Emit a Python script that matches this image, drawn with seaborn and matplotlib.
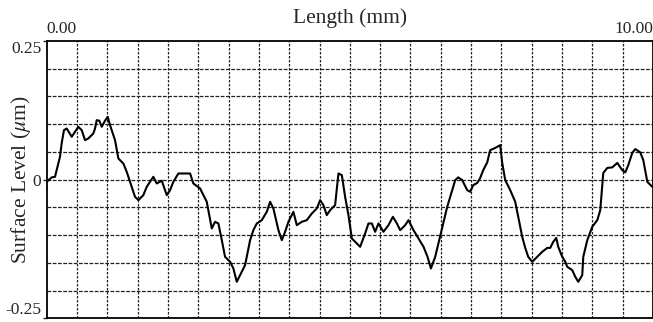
import numpy as np
import pandas as pd
import matplotlib
matplotlib.use("Agg")
import matplotlib.pyplot as plt
import seaborn as sns

# surface profile
length_mm = [0.000, 0.083, 0.137, 0.219, 0.248, 0.285, 0.330, 0.413, 0.467, 0.521,
             0.578, 0.632, 0.686, 0.769, 0.797, 0.825, 0.868, 0.908, 0.962, 1.007,
             1.045, 1.127, 1.182, 1.264, 1.320, 1.403, 1.457, 1.512, 1.594, 1.650,
             1.705, 1.759, 1.815, 1.898, 1.980, 2.035, 2.089, 2.172, 2.365, 2.419,
             2.530, 2.640, 2.723, 2.777, 2.832, 2.888, 2.942, 3.025, 3.079, 3.135,
             3.190, 3.272, 3.355, 3.409, 3.465, 3.548, 3.630, 3.685, 3.739, 3.822,
             3.878, 3.932, 3.987, 4.069, 4.125, 4.208, 4.290, 4.373, 4.455, 4.510,
             4.564, 4.620, 4.675, 4.757, 4.812, 4.868, 4.922, 4.977, 5.033, 5.087,
             5.170, 5.252, 5.307, 5.363, 5.417, 5.472, 5.554, 5.637, 5.710, 5.776,
             5.830, 5.913, 5.967, 6.050, 6.132, 6.215, 6.281, 6.337, 6.408, 6.490,
             6.573, 6.606, 6.688, 6.738, 6.787, 6.853, 6.936, 6.985, 7.035, 7.101,
             7.150, 7.200, 7.266, 7.315, 7.398, 7.480, 7.513, 7.563, 7.645, 7.728,
             7.777, 7.843, 7.893, 7.942, 8.008, 8.091, 8.173, 8.256, 8.305, 8.355,
             8.404, 8.437, 8.503, 8.553, 8.586, 8.668, 8.718, 8.767, 8.833, 8.850,
             8.916, 8.998, 9.081, 9.130, 9.180, 9.246, 9.328, 9.411, 9.493, 9.543,
             9.592, 9.658, 9.708, 9.790, 9.840, 9.906, 9.988]
surface_um = [-0.004, 0.004, 0.005, 0.041, 0.066, 0.089, 0.092, 0.077, 0.086, 0.095,
              0.089, 0.071, 0.074, 0.083, 0.092, 0.107, 0.106, 0.095, 0.106, 0.113,
              0.098, 0.071, 0.038, 0.029, 0.014, -0.013, -0.031, -0.037, -0.028, -0.013,
              -0.004, 0.005, -0.007, -0.002, -0.028, -0.019, -0.004, 0.011, 0.011, -0.007,
              -0.016, -0.040, -0.088, -0.076, -0.079, -0.109, -0.139, -0.148, -0.160, -0.184,
              -0.172, -0.154, -0.109, -0.091, -0.079, -0.073, -0.058, -0.040, -0.052, -0.091,
              -0.109, -0.094, -0.076, -0.058, -0.082, -0.076, -0.073, -0.061, -0.052, -0.037,
              -0.046, -0.064, -0.055, -0.046, 0.011, 0.008, -0.031, -0.064, -0.106, -0.112,
              -0.121, -0.097, -0.079, -0.079, -0.094, -0.079, -0.094, -0.082, -0.067, -0.079,
              -0.091, -0.082, -0.073, -0.091, -0.106, -0.121, -0.139, -0.160, -0.139, -0.102,
              -0.064, -0.049, -0.019, -0.001, 0.004, -0.001, -0.019, -0.022, -0.010, -0.006,
              0.003, 0.017, 0.031, 0.053, 0.057, 0.062, 0.030, -0.001, -0.019, -0.040,
              -0.067, -0.103, -0.123, -0.139, -0.148, -0.139, -0.130, -0.123, -0.123, -0.112,
              -0.105, -0.121, -0.139, -0.148, -0.157, -0.163, -0.175, -0.184, -0.172, -0.139,
              -0.109, -0.085, -0.073, -0.055, 0.012, 0.021, 0.022, 0.030, 0.017, 0.013,
              0.026, 0.048, 0.055, 0.049, 0.035, -0.004, -0.013]

x_ticks = [0.0, 10.0]
x_tick_labels = ["0.00", "10.00"]
y_ticks = [-0.25, 0.0, 0.25]
y_tick_labels = ["-0.25", "0", "0.25"]

profile = pd.DataFrame({"Length": length_mm, "Surface": surface_um})

sns.set_style("white")
plt.rcParams['font.family'] = ['Liberation Serif', 'DejaVu Serif']
plt.rcParams['mathtext.fontset'] = 'stix'

fig = plt.figure(figsize=(6.53, 3.22), dpi=100)
ax = fig.add_axes([0.0715, 0.011, 0.9285, 0.8625])

# grid every 0.5 mm and every 0.05 um
for gx in np.arange(0.5, 10.0, 0.5):
    ax.axvline(gx, color='#222222', lw=0.9, ls=(0, (2, 1.2)), zorder=1)
for gy in np.arange(-0.20, 0.25, 0.05):
    ax.axhline(gy, color='#222222', lw=0.9, ls=(0, (3, 1.2)), zorder=1)

sns.lineplot(data=profile, x="Length", y="Surface", ax=ax, color='black',
             lw=1.5, estimator=None, sort=False, zorder=3)

ax.set_xlim(0, 10)
ax.set_ylim(-0.25, 0.25)

ax.xaxis.tick_top()
ax.xaxis.set_label_position('top')
ax.set_xticks(x_ticks)
ax.set_xticklabels(x_tick_labels, fontsize=12.5)
ax.set_yticks(y_ticks)
ax.set_yticklabels(y_tick_labels, fontsize=12.5)
xl = ax.get_xticklabels()
xl[0].set_ha('left')
xl[-1].set_ha('right')
yl = ax.get_yticklabels()
yl[0].set_va('bottom')
yl[-1].set_va('top')
ax.tick_params(axis='x', length=0, pad=3)
ax.tick_params(axis='y', length=3, width=1, pad=1, direction='out', left=True)

ax.set_xlabel("Length (mm)", fontsize=15.5, labelpad=-2)
ax.set_ylabel(r"Surface Level ($\mu$m)", fontsize=15.5)
ax.yaxis.set_label_coords(-0.023, 0.5)

for s in ax.spines.values():
    s.set_color('black')
    s.set_linewidth(1.3)

fig.savefig("out.png", dpi=100)
